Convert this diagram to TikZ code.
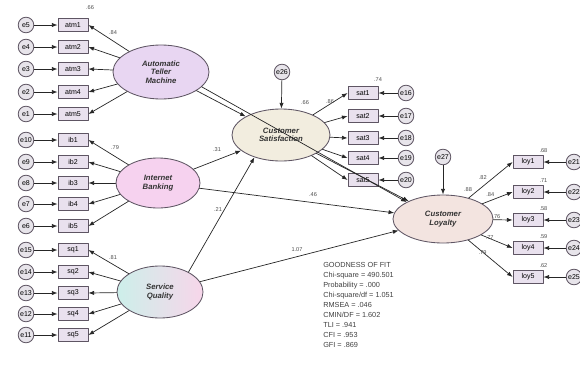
\documentclass[tikz,border=0pt]{standalone}
\usepackage{fontspec}
\setmainfont{Liberation Sans}
\usetikzlibrary{shapes.geometric,arrows.meta}
\definecolor{boxfill}{HTML}{E9E1EE}
\definecolor{errfill}{HTML}{E7E4EA}
\definecolor{edgecol}{HTML}{5E5563}
\definecolor{atmfill}{HTML}{E8D6F2}
\definecolor{ibfill}{HTML}{F6D2EF}
\definecolor{sqleft}{HTML}{CDEFEA}
\definecolor{sqright}{HTML}{F7D6EA}
\definecolor{csfill}{HTML}{F2EDDF}
\definecolor{clfill}{HTML}{F3E4E0}

\begin{document}
\begin{tikzpicture}[x=0.025cm,y=-0.025cm,line cap=round,line join=round,
  lat/.style={ellipse,draw=edgecol,line width=0.6pt,inner sep=0pt,align=center,
    font=\fontsize{5.5}{6}\selectfont\bfseries\itshape,text=black!80},
  obs/.style={rectangle,draw=edgecol,line width=0.6pt,fill=boxfill,minimum width=0.75cm,
    minimum height=0.32cm,inner sep=0pt,font=\fontsize{5}{5}\selectfont},
  err/.style={circle,draw=edgecol,line width=0.6pt,fill=errfill,minimum size=0.39cm,
    inner sep=0pt,font=\fontsize{5}{5}\selectfont},
  link/.style={-{Latex[length=4pt,width=3pt]},line width=0.5pt,draw=black!85},
  num/.style={font=\fontsize{4}{4}\selectfont,text=black!70,inner sep=0pt}]
  \useasboundingbox (0,0) rectangle (580,370);
  % latent variables
  \node[lat,fill=atmfill,minimum width=2.4cm,minimum height=1.35cm] (atm) at (161,72) {Automatic\\Teller\\Machine};
  \node[lat,fill=ibfill,minimum width=2.1cm,minimum height=1.25cm] (ib) at (158,183) {Internet\\Banking};
  \node[lat,left color=sqleft,right color=sqright,minimum width=2.15cm,minimum height=1.3cm] (sq) at (160,292) {Service\\Quality};
  \node[lat,fill=csfill,minimum width=2.45cm,minimum height=1.3cm] (cs) at (281,135) {Customer\\Satisfaction};
  \node[lat,fill=clfill,minimum width=2.5cm,minimum height=1.2cm] (cl) at (443,219) {Customer\\Loyalty};
  % residuals
  \node[err] (e26) at (282,72) {e26};
  \node[err] (e27) at (443,157) {e27};
  \draw[link] (e26) -- (cs);
  \draw[link] (e27) -- (cl);
  % left indicators
  \foreach \i/\y/\e in {1/25/5,2/47/4,3/69/3,4/92/2,5/114/1}{
    \node[obs] (atm\i) at (73,\y) {atm\i};
    \node[err] (e\e) at (26,\y) {e\e};
    \draw[link] (e\e) -- (atm\i);
    \draw[link] (atm) -- (atm\i.east);
  }
  \foreach \i/\y/\e in {1/140/10,2/162/9,3/183/8,4/204/7,5/226/6}{
    \node[obs] (ib\i) at (73,\y) {ib\i};
    \node[err] (e\e) at (26,\y) {e\e};
    \draw[link] (e\e) -- (ib\i);
    \draw[link] (ib) -- (ib\i.east);
  }
  \foreach \i/\y/\e in {1/250/15,2/272/14,3/293/13,4/314/12,5/335/11}{
    \node[obs] (sq\i) at (73,\y) {sq\i};
    \node[err] (e\e) at (26,\y) {e\e};
    \draw[link] (e\e) -- (sq\i);
    \draw[link] (sq) -- (sq\i.east);
  }
  \node[num] (r2atm1) at (90,8) {.66};
  \node[num] (lamatm1) at (113,33) {.84};
  \node[num] (lamib1) at (115,148) {.79};
  \node[num] (lamsq1) at (113,258) {.81};
  % satisfaction indicators
  \foreach \i/\y/\e in {1/93/16,2/116/17,3/138/18,4/158/19,5/180/20}{
    \node[obs] (sat\i) at (363,\y) {sat\i};
    \node[err] (e\e) at (406,\y) {e\e};
    \draw[link] (e\e) -- (sat\i);
    \draw[link] (cs) -- (sat\i.west);
  }
  \node[num] (r2sat1) at (378,80) {.74};
  \node[num] (lamsat1) at (330,102) {.86};
  % loyalty indicators
  \foreach \i/\y/\e/\rsq/\lam in {1/162/21/.68/.82,2/192/22/.71/.84,3/220/23/.58/.76,4/248/24/.59/.77,5/277/25/.62/.79}{
    \node[obs] (loy\i) at (528,\y) {loy\i};
    \node[err] (e\e) at (574,\y) {e\e};
    \draw[link] (e\e) -- (loy\i);
    \draw[link] (cl) -- (loy\i.west) node[num,pos=0.45,above left=1pt] (lamloy\i) {\lam};
    \node[num,anchor=south] (r2loy\i) at ([yshift=2pt]loy\i.north east) {\rsq};
  }
  % structural paths
  \draw[link] (atm) -- (cs);
  \draw[link] (atm.-20) -- (cl.155);
  \draw[link] (ib) -- (cs);
  \draw[link] (ib) -- (cl);
  \draw[link] (sq.35) -- (cs.-140);
  \draw[link] (sq) -- (cl);
  \draw[link] (cs) -- (cl);
  \node[num] (bibcs) at (217,150) {.31};
  \node[num] (bsqcs) at (218,210) {.21};
  \node[num] (bibcl) at (313,195) {.46};
  \node[num] (bsqcl) at (297,250) {1.07};
  \node[num] (r2cs) at (305,103) {.66};
  \node[num] (r2cl) at (468,190) {.88};
  % fit statistics
  \node[anchor=north west,align=left,inner sep=0pt,text=black!75,font=\fontsize{5.2}{7.1}\selectfont] (gof) at (323,262)
    {GOODNESS OF FIT\\Chi-square = 490.501\\Probability = .000\\Chi-square/df = 1.051\\RMSEA = .046\\CMIN/DF = 1.602\\TLI = .941\\CFI = .953\\GFI = .869};
\end{tikzpicture}
\end{document}
